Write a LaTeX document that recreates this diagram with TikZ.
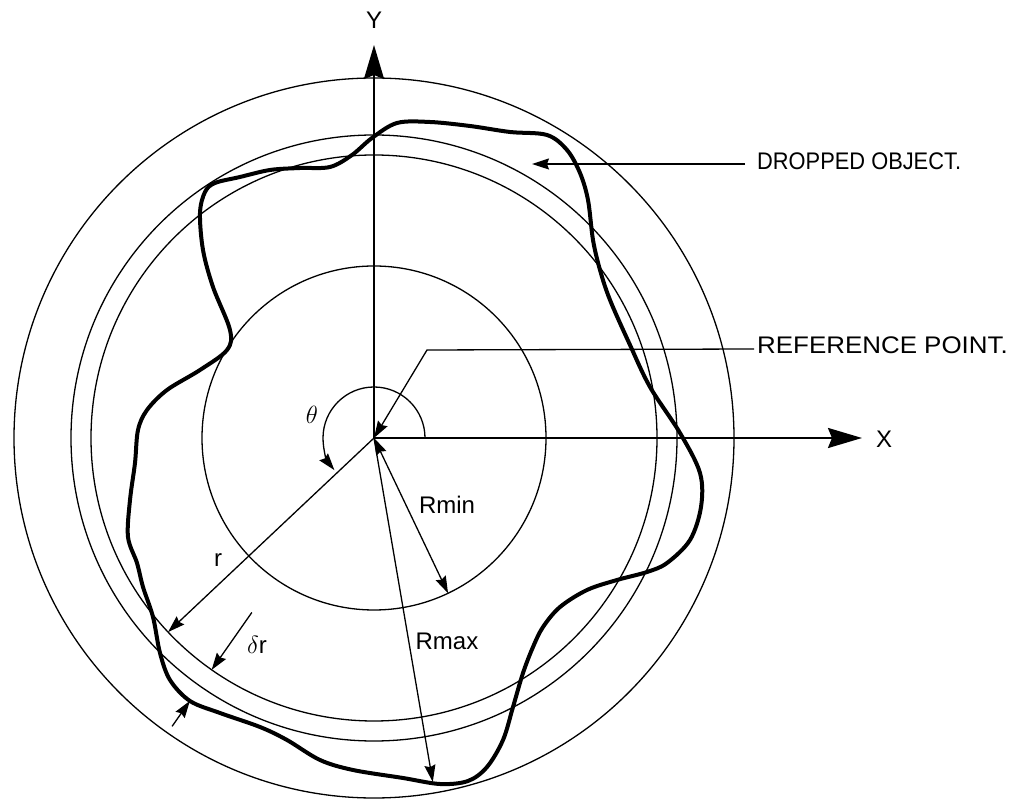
\documentclass[tikz,border=0pt]{standalone}
\usepackage{fontspec}
\setmainfont{Liberation Sans}
\usetikzlibrary{arrows.meta,calc}
\begin{document}
\begin{tikzpicture}[x=1pt,y=1pt,
  thinline/.style={line width=1.3pt},
  objline/.style={line width=4pt,line join=round},
  axisline/.style={line width=2.4pt},
  bighead/.style={-{Stealth[length=34pt,width=20pt,inset=4pt]}},
  arr/.style={-{Stealth[length=17pt,width=11pt,inset=2pt]}},
  dblarr/.style={{Stealth[length=17pt,width=11pt,inset=2pt]}-{Stealth[length=17pt,width=11pt,inset=2pt]}},
  lbl/.style={font=\fontsize{24}{28}\selectfont, inner sep=0pt}
]
\useasboundingbox (0,0) rectangle (1025,800);
\coordinate (O) at (374,362);
% circles
\draw[thinline] (O) circle[radius=172pt];
\draw[thinline] (O) circle[radius=283pt];
\draw[thinline] (O) circle[radius=303pt];
\draw[thinline] (O) circle[radius=360pt];
% axes
\coordinate (ytip) at (374,755);
\coordinate (xtip) at (862,362);
\draw[axisline,bighead] (O) -- (ytip);
\draw[axisline,bighead] (O) -- (xtip);
\node[lbl] (ylab) at (374,780) {Y};
\node[lbl] (xlab) at (884,361) {X};
% dropped object
\draw[objline] plot[smooth cycle,tension=0.55] coordinates {
(372,662) (397,677) (430,678) (470,674) (510,668) (547,665) (567,650)
(580,627) (588,600) (593,560) (600,530) (610,500) (630,455) (650,413)
(680,367) (700,327) (701,293) (690,260) (667,237) (647,228) (617,220)
(587,210) (560,193) (543,173) (533,153) (523,127) (513,93) (503,60)
(487,33) (468,19) (440,16)
(403,22) (353,30) (320,40) (287,60) (260,73) (220,87) (190,99)
(170,120) (160,147) (153,183) (143,213) (137,237) (128,263) (130,300)
(135,337) (138,370) (147,390) (167,410) (200,430) (227,450) (230,470)
(213,513) (203,550) (200,587) (205,608) (215,617) (240,623) (270,630)
(300,632) (330,633) (352,645)};
% theta
\draw[thinline,arr] ($(O)+(0:51)$) arc[start angle=0,end angle=219,radius=51pt];
\node[lbl,font=\fontsize{29}{32}\selectfont] (theta) at (312,385) {$\theta$};
% r
\coordinate (rtip) at ($(O)+(223.3:283)$);
\draw[thinline,arr] (O) -- (rtip);
\node[lbl] (rlab) at (218,240) {r};
% delta r
\coordinate (dra) at ($(O)+(235:213)$);
\coordinate (drb) at ($(O)+(235:283)$);
\coordinate (drc) at ($(O)+(235:352)$);
\coordinate (drd) at ($(O)+(235:321)$);
\draw[thinline,arr] (dra) -- (drb);
\draw[thinline,arr] (drc) -- (drd);
\node[lbl] (drlab) at (257,155) {$\delta$r};
% Rmin, Rmax
\coordinate (rmintip) at ($(O)+(-64.5:172)$);
\coordinate (rmaxtip) at ($(O)+(-80.3:349)$);
\draw[thinline,dblarr] (O) -- (rmintip);
\draw[thinline,arr] (O) -- (rmaxtip);
\node[lbl] (rminlab) at (447,295) {Rmin};
\node[lbl] (rmaxlab) at (447,159) {Rmax};
% leaders
\node[lbl,anchor=west] (dropped) at (757,639) {\scalebox{0.91}[1]{DROPPED OBJECT.}};
\coordinate (dtip) at (532,636);
\draw[thinline,arr] (dropped.west) ++(-12,-3) coordinate (dstart) -- (dtip);
\node[lbl,anchor=west] (refpt) at (757,455) {\scalebox{1.08}[1]{REFERENCE POINT.}};
\coordinate (rcorner) at (427,450);
\draw[thinline,arr] (refpt.west) ++(-3,-4) -- (rcorner) -- (O);
\end{tikzpicture}
\end{document}
